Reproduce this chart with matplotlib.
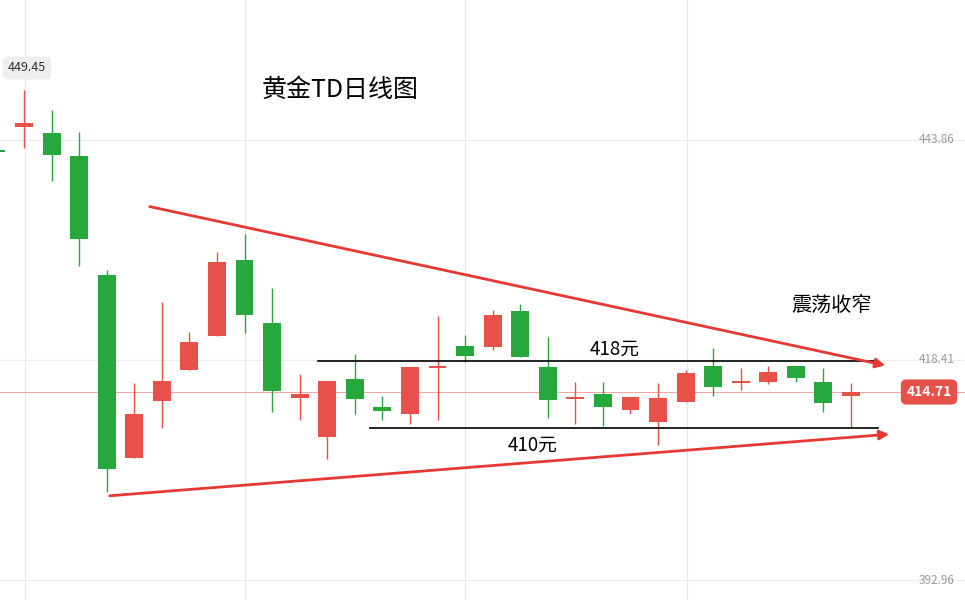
import matplotlib
matplotlib.use("Agg")
import matplotlib.pyplot as plt

plt.rcParams['font.family'] = ['Noto Sans CJK SC', 'DejaVu Sans']

# OHLC data (price)
def p(y):  # helper: read pixel -> price (reading aid)
    return 443.86 - (y - 140) * 25.45 / 220

opens  = [p(150),p(127),p(133),p(156),p(275),p(458),p(401),p(370),p(336),p(260),p(323),p(398),p(437),p(379),p(407),p(414),p(367),p(346),p(347),p(311),p(367),p(398),p(394),p(410),p(422),p(402),p(366),p(382),p(382),p(366),p(382),p(396)]
closes = [p(151),p(123),p(155),p(239),p(469),p(414),p(381),p(342),p(262),p(315),p(391),p(394),p(381),p(399),p(411),p(367),p(365),p(356),p(315),p(357),p(400),p(396),p(407),p(397),p(398),p(373),p(387),p(380),p(372),p(378),p(403),p(392)]
highs  = [p(148),p(90), p(110),p(132),p(270),p(383),p(302),p(332),p(252),p(234),p(288),p(374),p(381),p(354),p(396),p(367),p(316),p(335),p(310),p(304),p(337),p(382),p(382),p(397),p(383),p(370),p(348),p(368),p(366),p(366),p(368),p(383)]
lows   = [p(152),p(148),p(181),p(266),p(492),p(458),p(428),p(370),p(336),p(333),p(412),p(420),p(459),p(414),p(420),p(424),p(420),p(362),p(350),p(357),p(418),p(424),p(426),p(414),p(445),p(402),p(396),p(390),p(384),p(382),p(412),p(427)]
last_price = 414.71
axis_ticks = [443.86, 418.41, 392.96]
high_label = 449.45

RED, GREEN = '#e8514a', '#26a83c'
fig = plt.figure(figsize=(9.65, 6.0), dpi=100)
ax = fig.add_axes([0, 0, 1, 1])
sp = (851 - 24) / 30
x0 = 1 - 24 / sp
ax.set_xlim(x0, x0 + 965 / sp)
ax.set_ylim(p(600), p(0))
ax.axis('off')

def X(px): return x0 + px / sp

for gx in [25, 245, 465, 687]:
    ax.axvline(X(gx), color='#e6e6e6', lw=0.8, zorder=0)
for t in axis_ticks:
    ax.axhline(t, color='#ececec', lw=0.8, zorder=0)
    ax.text(X(937), t, f'{t:.2f}', color='#999999', fontsize=8.5, ha='center', va='center')

for i, (o, c, h, l) in enumerate(zip(opens, closes, highs, lows)):
    col = RED if c >= o else GREEN
    ax.vlines(i, l, h, color=col, lw=1, zorder=2)
    lo, hi = min(o, c), max(o, c)
    ax.bar(i, max(hi - lo, 0.25), bottom=lo if hi - lo > 0.25 else lo - 0.12,
           width=0.65, color=col, zorder=3)

ax.axhline(last_price, color=RED, lw=0.6, alpha=0.6, zorder=1)
ax.text(X(929), last_price, f'{last_price:.2f}', color='white', fontsize=10,
        fontweight='bold', ha='center', va='center', zorder=6,
        bbox=dict(boxstyle='round,pad=0.4', fc=RED, ec='none'))
ax.text(X(27), p(68), f'{high_label:.2f}', color='#333333', fontsize=9,
        ha='center', va='center',
        bbox=dict(boxstyle='round,pad=0.4', fc='#eeeeee', ec='none'))

arrow = dict(arrowstyle='-|>', color='#e53935', lw=2, mutation_scale=14)
ax.annotate('', xy=(X(888), p(366)), xytext=(X(147), p(206)), arrowprops=arrow)
ax.annotate('', xy=(X(892), p(434)), xytext=(X(107), p(496)), arrowprops=arrow)
ax.plot([X(318), X(875)], [p(361), p(361)], color='black', lw=1.2)
ax.plot([X(370), X(878)], [p(428), p(428)], color='black', lw=1.2)

ax.text(X(615), p(349), '418元', fontsize=13.5, ha='center', va='center')
ax.text(X(533), p(445), '410元', fontsize=13.5, ha='center', va='center')
ax.text(X(832), p(305), '震荡收窄', fontsize=14.5, ha='center', va='center')
ax.text(X(340), p(90), '黄金TD日线图', fontsize=18, ha='center', va='center')

fig.savefig('out.png', dpi=100)
